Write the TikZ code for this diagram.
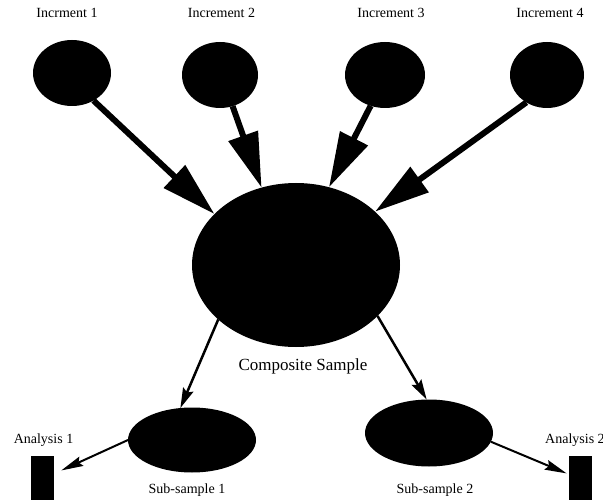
\documentclass[tikz,border=0pt]{standalone}
\usepackage{fontspec}
\setmainfont{Liberation Serif}
\usetikzlibrary{arrows.meta,shapes.geometric}
\begin{document}
\begin{tikzpicture}[x=1pt,y=-1pt,
 blob/.style={ellipse,fill=black,draw=none,inner sep=0pt,outer sep=0pt},
 lbl/.style={inner sep=0pt,font=\fontsize{14}{16}\selectfont},
 biglbl/.style={inner sep=0pt,font=\fontsize{17}{19}\selectfont},
 bigarrow/.style={line width=6pt,-{Triangle[length=55pt,width=30pt]}},
 midarrow/.style={line width=2.5pt,-{Stealth[length=20pt,width=11pt,inset=3pt]}},
 smallarrow/.style={line width=2pt,-{Stealth[length=22pt,width=10pt,inset=3pt]}},
 anbox/.style={fill=black,inner sep=0pt,outer sep=0pt,minimum width=23pt,minimum height=46pt}]
\useasboundingbox (0,0) rectangle (603,500);
% labels
\node[lbl] (t1) at (67,13) {Incrment 1};
\node[lbl] (t2) at (221.5,13) {Increment 2};
\node[lbl] (t3) at (391,13) {Increment 3};
\node[lbl] (t4) at (550,13) {Increment 4};
\node[biglbl] (tc) at (303,366) {Composite Sample};
\node[lbl] (ta1) at (43.5,440) {Analysis 1};
\node[lbl,anchor=west] (ta2) at (545,440) {Analysis 2};
\node[lbl] (ts1) at (187,490) {Sub-sample 1};
\node[lbl] (ts2) at (435,490) {Sub-sample 2};
% blobs
\node[blob,minimum width=78pt,minimum height=66pt] (inc1) at (72,73) {};
\node[blob,minimum width=76pt,minimum height=66pt] (inc2) at (220,75) {};
\node[blob,minimum width=80pt,minimum height=66pt] (inc3) at (385,75) {};
\node[blob,minimum width=74pt,minimum height=66pt] (inc4) at (547,75) {};
\node[blob,minimum width=208pt,minimum height=164pt] (comp) at (296,265) {};
\node[blob,minimum width=128pt,minimum height=65pt] (sub1) at (192,440) {};
\node[blob,minimum width=128pt,minimum height=67pt] (sub2) at (429,433) {};
\node[anbox] (a1) at (42.5,479) {};
\node[anbox] (a2) at (580,479) {};
% connectors
\draw[bigarrow] (inc1.-52) -- (comp.148);
\draw[bigarrow] (inc2.-68) -- (comp.114);
\draw[bigarrow] (inc3.-115) -- (comp.67);
\draw[bigarrow] (inc4.-127) -- (comp.34);
\draw[midarrow] (comp.-145) -- (sub1.110);
\draw[midarrow] (comp.-32) -- (sub2.94);
\draw[smallarrow,shorten >=8pt] (sub1.west) -- (a1);
\draw[smallarrow,shorten >=2pt] (sub2.-8) -- (a2);
\end{tikzpicture}
\end{document}
